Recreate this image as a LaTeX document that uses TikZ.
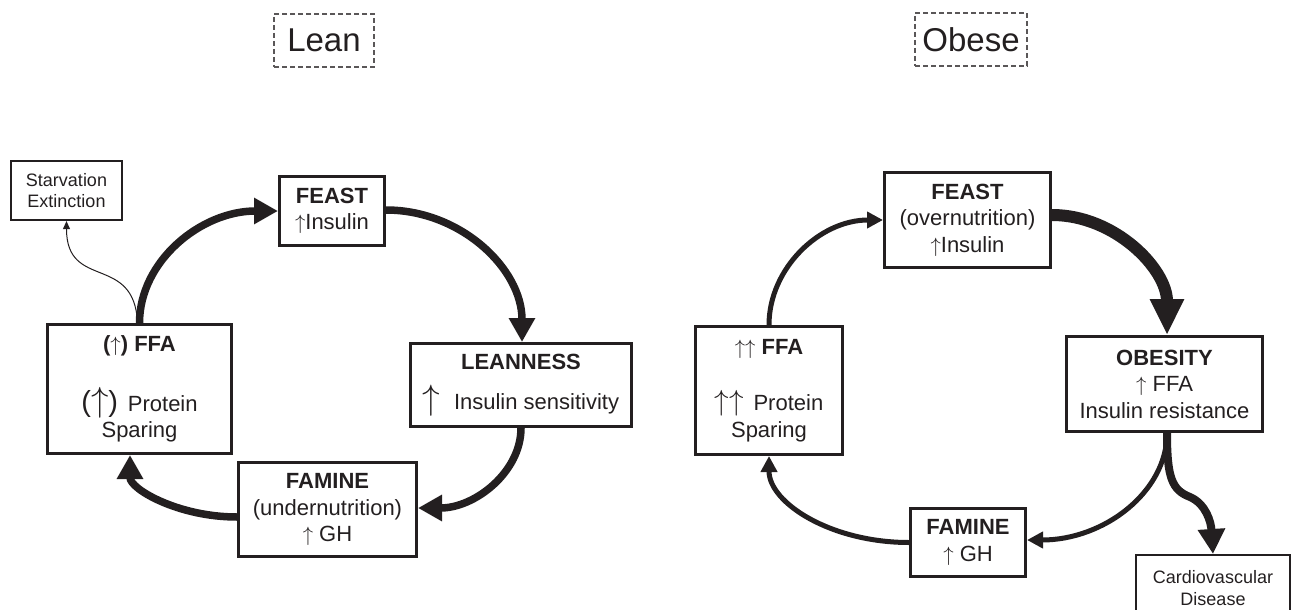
\documentclass[tikz,border=0pt]{standalone}
\usepackage{fontspec}
\usepackage{graphicx}
\setmainfont{Liberation Sans}
\usetikzlibrary{arrows.meta}
\definecolor{ink}{HTML}{231F20}
\newcommand{\upar}{$\uparrow$}
\newcommand{\bigupar}[1]{\scalebox{#1}{$\uparrow$}}
\begin{document}
\begin{tikzpicture}[x=1pt,y=-1pt,
  box/.style={draw=ink, line width=3pt, text=ink, align=center, inner sep=0pt, font=\fontsize{22}{26.5}\selectfont},
  smallbox/.style={draw=ink, line width=2.2pt, text=ink, align=center, inner sep=0pt, font=\fontsize{18}{21.5}\selectfont},
  tag/.style={draw=ink!75, dash pattern=on 5pt off 3pt, line width=1.4pt, text=ink, inner sep=0pt, font=\fontsize{33}{36}\selectfont},
  thickarr/.style={draw=ink, line width=7.5pt, -{Triangle[length=24pt,width=25pt]}},
  medarr/.style={draw=ink, line width=5pt, -{Triangle[length=16pt,width=16pt]}},
  hugearr/.style={draw=ink, line width=12pt, -{Triangle[length=36pt,width=32pt]}},
  cardarr/.style={draw=ink, line width=8pt, -{Triangle[length=25pt,width=26pt]}},
  thinarr/.style={draw=ink, line width=1pt, -{Triangle[length=8pt,width=7pt]}}
]
\useasboundingbox (0,0) rectangle (1293,610);

% labels
\node[tag, minimum width=100pt, minimum height=53pt] (leanlbl) at (324,40.5) {Lean};
\node[tag, minimum width=112pt, minimum height=53pt] (obeselbl) at (971,39.5) {Obese};

% lean cycle
\node[smallbox, minimum width=111pt, minimum height=59pt] (starv) at (66.5,190.5) {Starvation\\Extinction};
\node[box, minimum width=105pt, minimum height=69pt] (feastL) at (332,211) {\textbf{FEAST}\\\upar Insulin};
\node[box, minimum width=221pt, minimum height=83pt] (leanness) at (521,385) {\textbf{LEANNESS}\\[13pt]\bigupar{1.7}\,\, Insulin sensitivity};
\node[box, minimum width=184pt, minimum height=129pt] (ffaL) at (139.5,389) {\textbf{(}\upar\textbf{) FFA}\\[30pt]{\fontsize{29}{26}\selectfont(\bigupar{1.4})}\, Protein\\Sparing};
\node[box, minimum width=178pt, minimum height=94pt] (famL) at (327.5,509.5) {\textbf{FAMINE}\\(undernutrition)\\\upar\ GH};

% obese cycle
\node[box, minimum width=166pt, minimum height=95pt] (feastR) at (967.5,220) {\textbf{FEAST}\\(overnutrition)\\\upar Insulin};
\node[box, minimum width=196pt, minimum height=95pt] (obes) at (1164.5,384) {\textbf{OBESITY}\\\upar\ FFA\\Insulin resistance};
\node[box, minimum width=147pt, minimum height=128pt] (ffaR) at (769,390.5) {\upar\upar\ \textbf{FFA}\\[30pt]\bigupar{1.4}\bigupar{1.4}\, Protein\\Sparing};
\node[box, minimum width=115pt, minimum height=68pt] (famR) at (968,542.5) {\textbf{FAMINE}\\\upar\ GH};
\node[smallbox, minimum width=154pt, minimum height=66pt, anchor=north] (cardio) at (1213,554) {Cardiovascular\\Disease};

% lean connectors
\draw[thickarr] (ffaL.north) .. controls +(0,-62) and +(-77,0) .. (feastL.west);
\draw[thickarr] ([yshift=1pt]feastL.east) .. controls +(75,0) and +(0,-73) .. ([xshift=1pt]leanness.north);
\draw[thickarr] (leanness.south) .. controls +(0,44) and +(57,0) .. ([yshift=1.5pt]famL.east);
\draw[thickarr] ([yshift=-7.5pt]famL.west) .. controls +(-59,0) and +(0,34) .. ([xshift=-9.5pt]ffaL.south);
\draw[thinarr] ([xshift=-2pt]ffaL.north) .. controls +(-3,-70) and +(0,70) .. (starv.south);

% obese connectors
\draw[medarr] (ffaR.north) .. controls +(0,-57) and +(-63,0) .. (feastR.west);
\draw[hugearr] ([yshift=5pt]feastR.east) .. controls +(63,0) and +(0,-66) .. ([xshift=2.5pt]obes.north);
\draw[medarr] ([xshift=2.5pt]obes.south) .. controls +(0,59) and +(77,0) .. ([yshift=2.5pt]famR.east);
\draw[medarr] (famR.west) .. controls +(-78,0) and +(0,47) .. (ffaR.south);
\draw[cardarr] ([xshift=2.5pt]obes.south) .. controls +(0,45) and (1172,490) .. (1190,497) .. controls (1206,504) and (1211,522) .. (cardio.north);
\end{tikzpicture}
\end{document}
